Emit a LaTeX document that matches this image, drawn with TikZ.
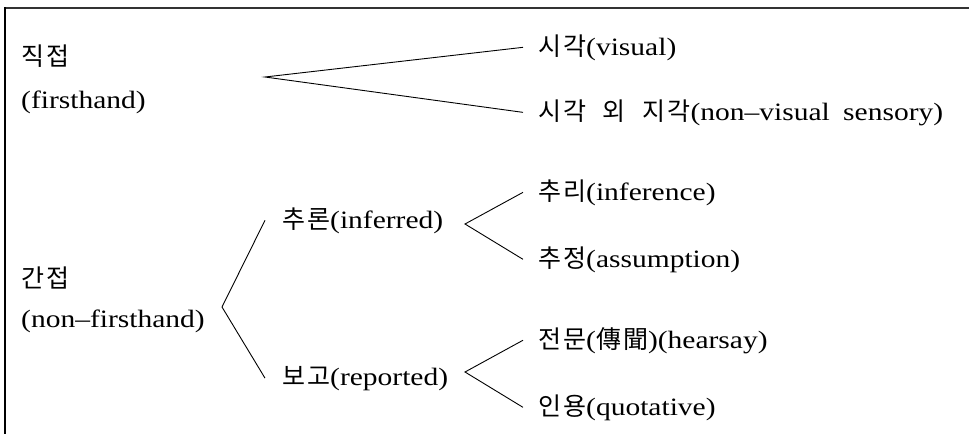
\documentclass[tikz,border=0pt]{standalone}
\usepackage{fontspec}
\setmainfont{Liberation Serif}[FakeStretch=1.18, WordSpace=1.8]
\newfontfamily\krfont{Noto Sans CJK KR}[WordSpace=2.2, LetterSpace=8]
\tikzset{
  lbl/.style={anchor=base west, inner sep=0pt, font=\fontsize{25}{30}\selectfont},
  fork/.style={line width=0.9pt, black},
}
\begin{document}
\begin{tikzpicture}[x=1pt,y=-1pt]
\useasboundingbox (0,0) rectangle (969,434);
% frame: top rule and left rule
\draw[line width=2.2pt, black!80] (969,8) -- (4.5,8);
\draw[line width=1.4pt, black] (5,7) -- (5,434);

% first level
\node[lbl] (dir) at (21,65) {{\krfont 직접}};
\node[lbl] (dirE) at (21,108) {(firsthand)};
\node[lbl] (ind) at (21,287) {{\krfont 간접}};
\node[lbl] (indE) at (21,327) {(non–firsthand)};

% second level
\node[lbl] (vis) at (538,55) {{\krfont 시각}(visual)};
\node[lbl] (nvis) at (538,120) {{\krfont 시각 외 지각}(non–visual sensory)};
\node[lbl] (inf) at (282,228) {{\krfont 추론}(inferred)};
\node[lbl] (rep) at (282,385) {{\krfont 보고}(reported)};

% third level
\node[lbl] (infc) at (538,200) {{\krfont 추리}(inference)};
\node[lbl] (assm) at (538,267) {{\krfont 추정}(assumption)};
\node[lbl] (hear) at (538,348) {{\krfont 전문}({\krfont 傳聞})(hearsay)};
\node[lbl] (quot) at (538,415) {{\krfont 인용}(quotative)};

% branching points
\coordinate (f1) at (265,77);
\coordinate (f2) at (222,307);
\coordinate (f3) at (465,224);
\coordinate (f4) at (465,372);

\draw[fork] ([xshift=-15pt]vis.west) -- (f1) -- ([xshift=-15pt]nvis.west);
\draw[fork] ([xshift=-17pt]inf.west) -- (f2) -- ([xshift=-17pt]rep.west);
\draw[fork] ([xshift=-15pt]infc.west) -- (f3) -- ([xshift=-15pt]assm.west);
\draw[fork] ([xshift=-15pt]hear.west) -- (f4) -- ([xshift=-15pt]quot.west);
\end{tikzpicture}
\end{document}
